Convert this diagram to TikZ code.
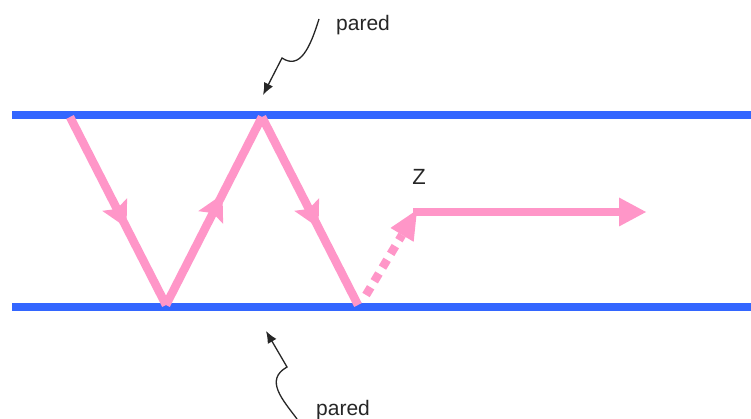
\documentclass[tikz,border=0pt]{standalone}
\usepackage{fontspec}
\setmainfont{Liberation Sans}
\usetikzlibrary{arrows.meta,decorations.markings,calc}
\definecolor{wallblue}{RGB}{51,102,255}
\definecolor{raypink}{RGB}{255,150,200}
\tikzset{
  wall/.style={draw=wallblue,line width=8.5pt},
  ray/.style={draw=raypink,line width=8.5pt},
  midarrow/.style={postaction={decorate},decoration={markings,
    mark=at position 0.47 with {\fill[raypink] (25pt,0) -- (-1pt,14pt) -- (4pt,0) -- (-1pt,-14pt) -- cycle;}}},
  label/.style={font=\fontsize{21}{24}\selectfont,text=black!85,inner sep=0pt},
  pointer/.style={draw=black!85,line width=1.3pt,-{Latex[length=12pt,width=10pt]}}
}
\begin{document}
\begin{tikzpicture}[x=1pt,y=-1pt]
\useasboundingbox (0,0) rectangle (751,419);
% walls
\coordinate (tl) at (12,115); \coordinate (tr) at (751,115);
\coordinate (bl) at (12,307); \coordinate (br) at (751,307);
\draw[wall] (tl) -- (tr);
\draw[wall] (bl) -- (br);
% ray points
\coordinate (p0) at (70,117);
\coordinate (p1) at (166,305);
\coordinate (p2) at (262,117);
\coordinate (p3) at (358,305);
\coordinate (d0) at (366,295);
\coordinate (d1) at (417,210);
\coordinate (h0) at (413,212);
\coordinate (p5) at (646,212);
\draw[ray,midarrow] (p0) -- (p1);
\draw[ray,midarrow] (p1) -- (p2);
\draw[ray,midarrow] (p2) -- (p3);
% dotted segment with head
\coordinate (hb1) at ($(d1)!29pt!(d0)$);
\draw[draw=raypink,line width=8.5pt,dash pattern=on 9pt off 7pt] (d0) -- (hb1);
\fill[raypink] (d1) -- ($(hb1)!13.5pt!90:(d1)$) -- ($(hb1)!13.5pt!-90:(d1)$) -- cycle;
% horizontal arrow
\coordinate (hb2) at ($(p5)!27pt!(h0)$);
\draw[ray] (h0) -- (hb2);
\fill[raypink] (p5) -- ($(hb2)!14.5pt!90:(p5)$) -- ($(hb2)!14.5pt!-90:(p5)$) -- cycle;
% labels
\node[label,font=\fontsize{22}{24}\selectfont] (z) at (419,177) {Z};
\node[label,anchor=base west] (ptop) at (336,31) {pared};
\node[label,anchor=base west] (pbot) at (316,415) {pared};
% pointers
\coordinate (t0) at (319,19);
\coordinate (t1) at (282,58);
\coordinate (t2) at (263,95);
\draw[pointer] (t0) .. controls (310,48) and (300,70) .. (t1) -- (t2);
\coordinate (b0) at (297,419);
\coordinate (b1) at (287,367);
\coordinate (b2) at (266,331);
\draw[pointer] (b0) .. controls (283,400) and (264,380) .. (b1) -- (b2);
\end{tikzpicture}
\end{document}
